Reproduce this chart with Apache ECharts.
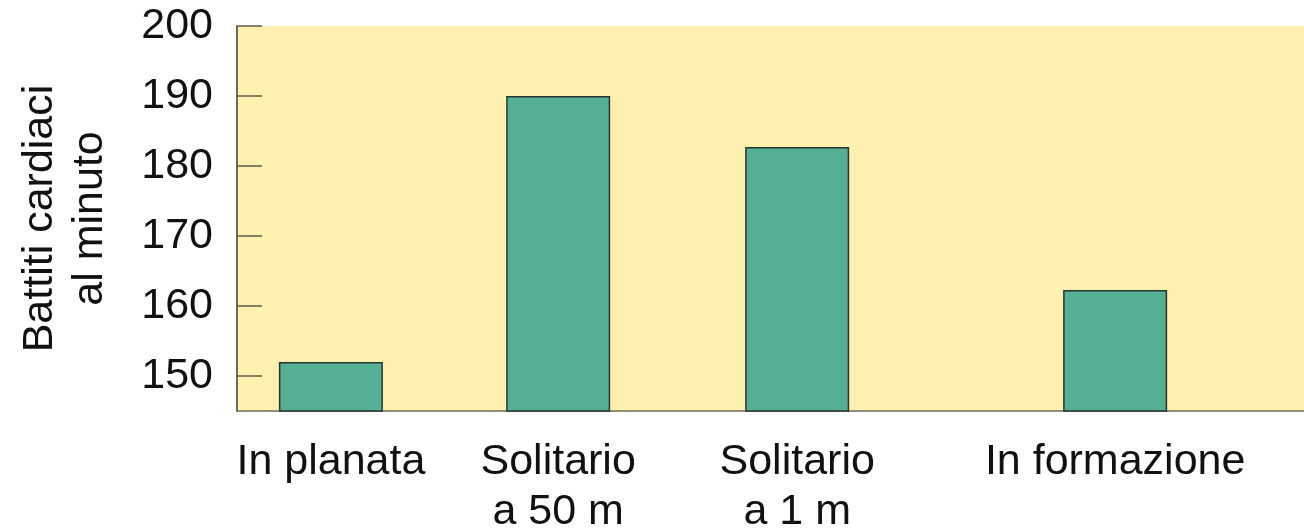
<!DOCTYPE html>
<html>
<head>
<meta charset="utf-8">
<script src="https://cdn.jsdelivr.net/npm/echarts@6/dist/echarts.min.js"></script>
<style>
  html, body { margin: 0; padding: 0; background: #ffffff; }
  #chart { width: 1304px; height: 530px; }
</style>
</head>
<body>
<div id="chart"></div>
<script>
// Heart rate of pelicans in different flight conditions
const categories = ['In planata', 'Solitario\na 50 m', 'Solitario\na 1 m', 'In formazione'];
const heartRates = [152, 190, 182.7, 162.3];
const yTicks = [150, 160, 170, 180, 190, 200];

// Horizontal slot of each category along the plot (percent of its width)
const slotCenters = [8.8, 30.1, 52.5, 82.3];

const font = '"Liberation Sans", Arial, Helvetica, sans-serif';

const chart = echarts.init(document.getElementById('chart'), null, { renderer: 'canvas' });

chart.setOption({
  animation: false,
  grid: {
    left: 237, right: 0, top: 26, bottom: 119,
    outerBoundsMode: 'none', containLabel: false,
    show: true, backgroundColor: '#fef0ae', borderWidth: 0
  },
  xAxis: {
    type: 'value', min: 0, max: 100,
    splitLine: { show: false },
    axisLine: { show: true, lineStyle: { color: '#6f6a5a', width: 1.5 } },
    axisTick: { show: false },
    axisLabel: {
      customValues: slotCenters,
      formatter: v => categories[slotCenters.indexOf(v)] || '',
      color: '#111', fontFamily: font, fontSize: 43, lineHeight: 50,
      margin: 26, align: 'center', verticalAlign: 'top'
    }
  },
  yAxis: {
    type: 'value', min: 145, max: 200, interval: 5,
    name: 'Battiti cardiaci\nal minuto',
    nameLocation: 'middle', nameGap: 122, nameRotate: 90,
    nameTextStyle: { color: '#111', fontFamily: font, fontSize: 43, lineHeight: 50 },
    splitLine: { show: false },
    axisLine: { show: true, lineStyle: { color: '#6f6a5a', width: 2 } },
    axisTick: {
      show: true, inside: true, length: 25,
      customValues: yTicks,
      lineStyle: { color: '#5f5a4c', width: 1.5 }
    },
    axisLabel: {
      customValues: yTicks,
      color: '#111', fontFamily: font, fontSize: 43, margin: 24
    }
  },
  series: [{
    type: 'bar',
    barWidth: 104,
    data: slotCenters.map((x, i) => [x, heartRates[i]]),
    itemStyle: { color: '#55af94', borderColor: '#27352d', borderWidth: 1.5 }
  }]
});
</script>
</body>
</html>
